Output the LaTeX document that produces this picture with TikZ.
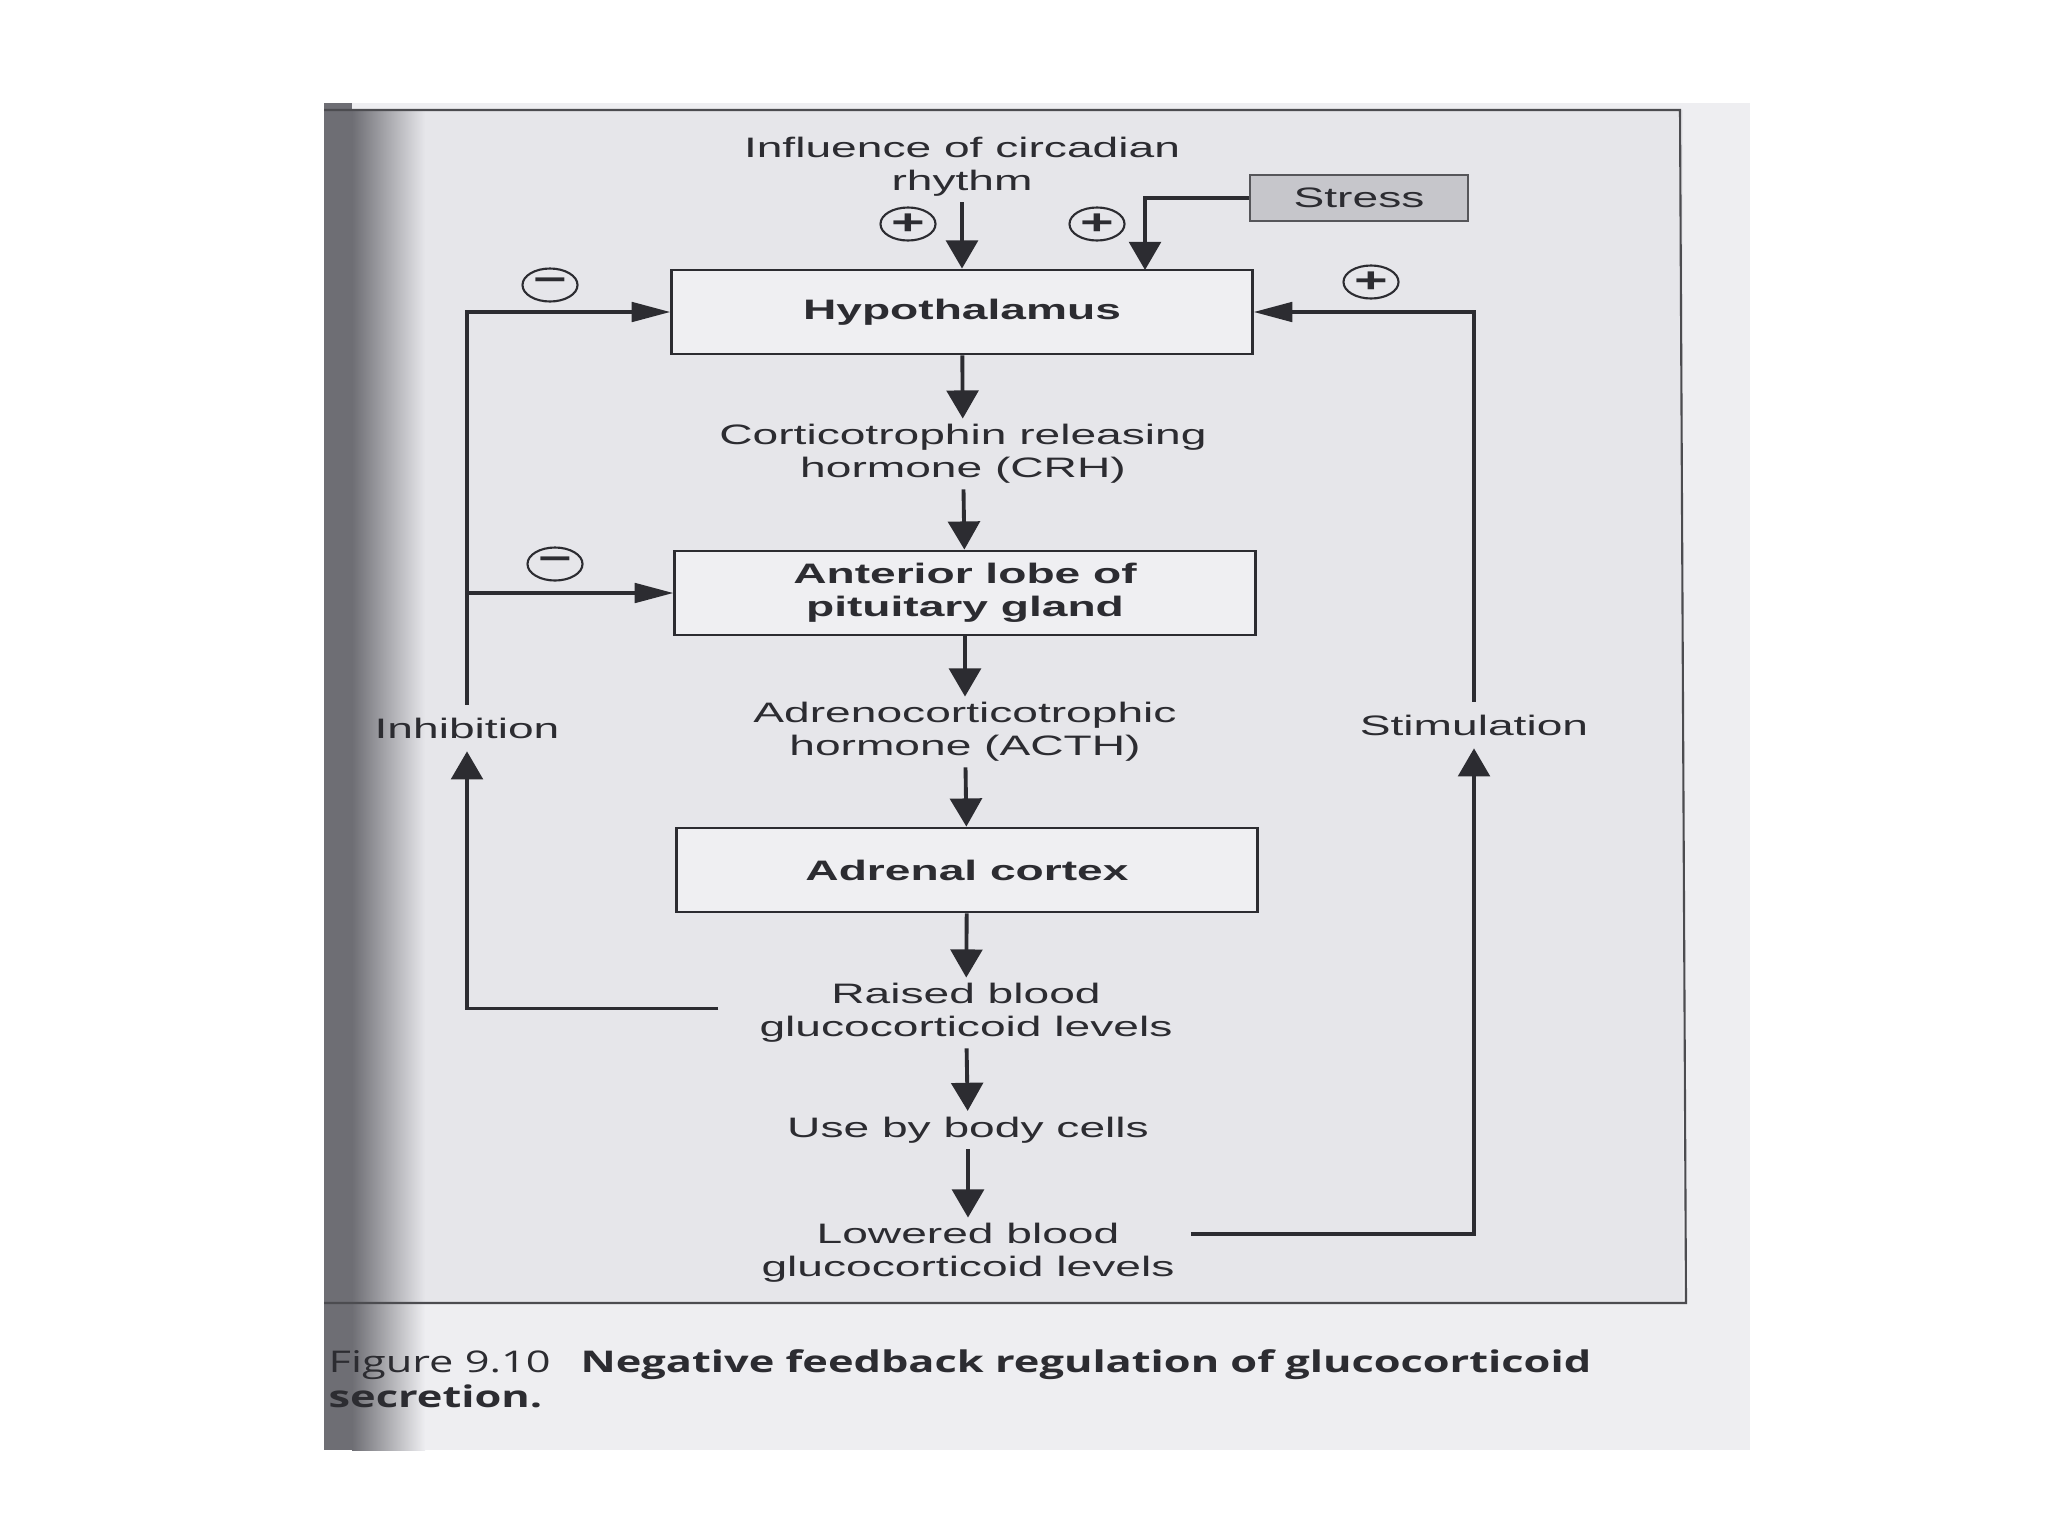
\documentclass[tikz,border=0pt]{standalone}
\usepackage{fontspec}
\setmainfont{Liberation Sans}[FakeStretch=1.64]
\newfontfamily\capfont{Open Sans}[FakeStretch=1.45]
\usepackage{tikz}
\usetikzlibrary{arrows.meta,shapes.geometric}

\definecolor{ink}{HTML}{2C2C31}
\definecolor{pagegray}{HTML}{EEEEF1}
\definecolor{framegray}{HTML}{E6E6EA}
\definecolor{boxfill}{HTML}{EFEFF2}
\definecolor{stressfill}{HTML}{C6C6CB}
\definecolor{shadow}{HTML}{6E6E74}

\begin{document}
\begin{tikzpicture}[
  x=0.01cm, y=-0.01cm,
  text=ink,
  organ/.style={draw=ink, line width=0.8pt, fill=boxfill, minimum width=5.8cm,
    minimum height=0.84cm, align=center, font=\fontsize{8}{9.3}\selectfont\bfseries},
  stage/.style={align=center, inner sep=1.5pt, font=\fontsize{8}{9.3}\selectfont},
  loop/.style={stage, inner sep=3.5pt},
  sign/.style={draw=ink, line width=0.6pt, ellipse, inner sep=0pt, minimum width=0.55cm,
    minimum height=0.33cm, font=\fontsize{10}{10}\selectfont\bfseries},
  stressbox/.style={draw=ink!80, line width=0.8pt, fill=stressfill, minimum width=2.18cm,
    minimum height=0.46cm, font=\fontsize{8}{9.3}\selectfont},
  flow/.style={-{Triangle[length=8pt,width=9pt]}, line width=1.1pt, draw=ink},
  sideflow/.style={-{Triangle[length=11pt,width=5.5pt]}, line width=1.1pt, draw=ink},
  caption/.style={align=left, inner sep=0pt, font=\capfont\fontsize{8.5}{10}\selectfont}
]
\useasboundingbox (0,0) rectangle (2048,1536);
% scanned page
\fill[pagegray] (324,103) rectangle (1750,1450);
\fill[framegray] (324,110) rectangle (1683,1303);
\fill[shadow] (324,103) rectangle (352,1450);
\shade[left color=shadow, right color=framegray] (352,110) rectangle (425,1303);
\shade[left color=shadow, right color=pagegray] (352,1303) rectangle (425,1450);
\draw[ink!85, line width=0.6pt] (324,110) -- (1680,110) -- (1686,1303) -- (324,1303);

% main column
\node[stage] (circ) at (962,167) {Influence of circadian\\rhythm};
\node[organ] (hypo) at (962,312) {Hypothalamus};
\node[stage] (crh) at (963,454) {Corticotrophin releasing\\hormone (CRH)};
\node[organ] (ant) at (965,593) {Anterior lobe of\\pituitary gland};
\node[stage] (acth) at (965,732) {Adrenocorticotrophic\\hormone (ACTH)};
\node[organ] (adrenal) at (967,870) {Adrenal cortex};
\node[stage] (raised) at (966,1013) {Raised blood\\glucocorticoid levels};
\node[stage] (use) at (968,1130) {Use by body cells};
\node[stage] (lowered) at (968,1253) {Lowered blood\\glucocorticoid levels};

% inputs and feedback
\node[stressbox] (stress) at (1359,198) {Stress};
\coordinate (sin) at (1145,270);
\node[loop] (inhib) at (467,728) {Inhibition};
\node[loop] (stim) at (1474,725) {Stimulation};

\node[sign] (pcirc) at (908,224) {+};
\node[sign] (pstress) at (1097,224) {+};
\node[sign] (mhypo) at (550,285) {\char"2212};
\node[sign] (phypo) at (1371,282) {+};
\node[sign] (mant) at (555,564) {\char"2212};

\draw[flow] (circ) -- (hypo);
\draw[flow] (stress.west) -| (sin);
\draw[flow] (hypo) -- (crh);
\draw[flow] (crh) -- (ant);
\draw[flow] (ant) -- (acth);
\draw[flow] (acth) -- (adrenal);
\draw[flow] (adrenal) -- (raised);
\draw[flow] (raised) -- (use);
\draw[flow] (use) -- (lowered);

\draw[flow, shorten <=10pt] ([yshift=1.3pt]raised.west) -| (inhib.south);
\draw[sideflow] (inhib.north) |- (hypo.west);
\draw[sideflow] (inhib.north |- ant.west) -- (ant.west);
\draw[flow, shorten <=3pt] ([yshift=5.5pt]lowered.east) -| (stim.south);
\draw[sideflow] (stim.north) |- (hypo.east);

\node[caption, anchor=north west] (cap) at (328,1349)
  {Figure 9.10\quad\textbf{Negative feedback regulation of glucocorticoid}\\\textbf{secretion.}};
\end{tikzpicture}
\end{document}
